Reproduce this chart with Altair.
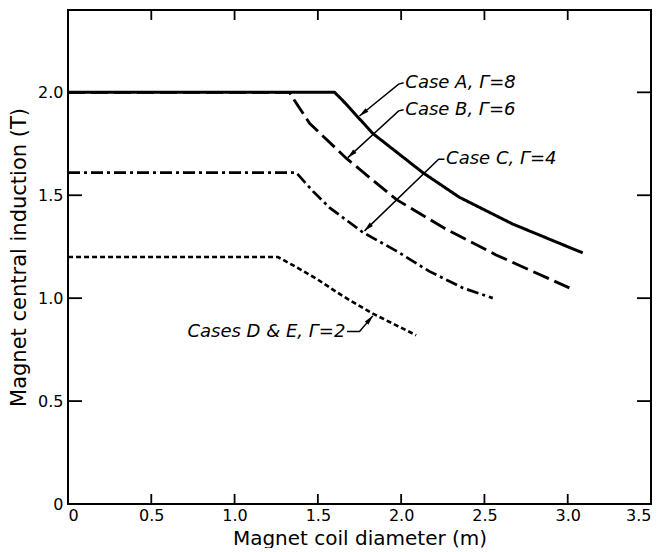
import math
import altair as alt
import pandas as pd

# ---- data ----
case_a_x = [0.0, 1.60, 1.65, 1.83, 2.13, 2.35, 2.67, 3.09]
case_a_y = [2.00, 2.00, 1.96, 1.80, 1.61, 1.49, 1.36, 1.22]
case_b_x = [0.0, 1.33, 1.36, 1.45, 1.67, 1.97, 2.27, 2.57, 3.01]
case_b_y = [2.00, 2.00, 1.96, 1.85, 1.68, 1.48, 1.335, 1.21, 1.05]
case_c_x = [0.0, 1.37, 1.47, 1.57, 1.77, 1.97, 2.17, 2.37, 2.55]
case_c_y = [1.61, 1.61, 1.52, 1.44, 1.32, 1.23, 1.13, 1.05, 1.00]
case_d_x = [0.0, 1.26, 1.35, 1.50, 1.65, 1.83, 2.09]
case_d_y = [1.20, 1.20, 1.16, 1.09, 1.01, 0.925, 0.82]

case_names = ["A", "B", "C", "D"]

x_tick_labels = [0.0, 0.5, 1.0, 1.5, 2.0, 2.5, 3.0, 3.5]
y_tick_labels = [0.0, 0.5, 1.0, 1.5, 2.0]
x_inner_ticks = [0.5, 1.0, 1.5, 2.0, 2.5, 3.0]
y_inner_ticks = [0.5, 1.0, 1.5, 2.0]

label_text = ["Case A,  \u0393=8", "Case B,  \u0393=6", "Case C,  \u0393=4", "Cases D & E,  \u0393=2"]
label_x = [2.025, 2.025, 2.27, 1.665]
label_y = [2.047, 1.915, 1.675, 0.835]
label_align = ["left", "left", "left", "right"]

# leader lines: start, bend, arrow tip
leader_x = [[2.015, 1.985, 1.75], [2.015, 1.985, 1.68], [2.26, 2.225, 1.78], [1.675, 1.75, 1.83]]
leader_y = [[2.047, 2.040, 1.885], [1.915, 1.910, 1.683], [1.675, 1.675, 1.327], [0.838, 0.838, 0.914]]

X_MAX, Y_MAX = 3.5, 2.4
W, H = 583, 494
TL = 10

rows = []
for name, xs_, ys_ in zip(case_names, [case_a_x, case_b_x, case_c_x, case_d_x],
                         [case_a_y, case_b_y, case_c_y, case_d_y]):
    for i, (xv, yv) in enumerate(zip(xs_, ys_)):
        rows.append({"case": name, "x": xv, "y": yv, "ord": i})
lines_df = pd.DataFrame(rows)

lead_rows = []
arrow_rows = []
sx, sy = W / X_MAX, H / Y_MAX
for k, (lx, ly) in enumerate(zip(leader_x, leader_y)):
    for i, (xv, yv) in enumerate(zip(lx, ly)):
        lead_rows.append({"id": k, "x": xv, "y": yv, "ord": i})
    dx = (lx[-1] - lx[-2]) * sx
    dyu = (ly[-1] - ly[-2]) * sy
    ang = math.degrees(math.atan2(dx, dyu)) % 360
    arrow_rows.append({"x": lx[-1], "y": ly[-1], "angle": ang})
lead_df = pd.DataFrame(lead_rows)
arrow_df = pd.DataFrame(arrow_rows)
label_df = pd.DataFrame({"t": label_text, "x": label_x, "y": label_y, "al": label_align})

xs = alt.Scale(domain=[0, X_MAX], nice=False, zero=False)
ys = alt.Scale(domain=[0, Y_MAX], nice=False, zero=False)

FONT = "DejaVu Sans"

x_axis = alt.Axis(
    values=x_tick_labels,
    labelExpr="datum.value == 0 ? '0' : format(datum.value, '.1f')",
    ticks=False, domain=False, grid=False,
    title="Magnet coil diameter (m)", titleFontSize=20, titleFontWeight="normal",
    labelFontSize=16, labelPadding=3, titlePadding=5, labelFont=FONT, titleFont=FONT,
    labelColor="black", titleColor="black")
y_axis = alt.Axis(
    values=y_tick_labels,
    labelExpr="datum.value == 0 ? '0' : format(datum.value, '.1f')",
    ticks=False, domain=False, grid=False,
    title="Magnet central induction (T)", titleFontSize=21, titleFontWeight="normal",
    labelFontSize=16, labelPadding=5, titlePadding=8, labelFont=FONT, titleFont=FONT,
    labelColor="black", titleColor="black")


def X(f):
    return alt.X(f, scale=xs, axis=x_axis)


def Y(f):
    return alt.Y(f, scale=ys, axis=y_axis)


lines = alt.Chart(lines_df).mark_line(color="black").encode(
    x=X("x:Q"), y=Y("y:Q"),
    detail="case:N",
    order="ord:Q",
    strokeDash=alt.StrokeDash("case:N", scale=alt.Scale(
        domain=case_names, range=[[1, 0], [17, 6], [12, 4, 3, 4], [5, 3]]), legend=None),
    strokeWidth=alt.StrokeWidth("case:N", scale=alt.Scale(
        domain=case_names, range=[3.0, 2.6, 2.6, 2.6]), legend=None),
)

xt_df = pd.DataFrame({"x": x_inner_ticks})
yt_df = pd.DataFrame({"y": y_inner_ticks})
tick_style = dict(color="black", strokeWidth=1.8)
bottom_ticks = alt.Chart(xt_df).mark_rule(**tick_style).encode(
    x=X("x:Q"), y=alt.value(H), y2=alt.value(H - TL))
top_ticks = alt.Chart(xt_df).mark_rule(**tick_style).encode(
    x=X("x:Q"), y=alt.value(0), y2=alt.value(TL))
left_ticks = alt.Chart(yt_df).mark_rule(**tick_style).encode(
    y=Y("y:Q"), x=alt.value(0), x2=alt.value(TL + 4))
right_ticks = alt.Chart(yt_df).mark_rule(**tick_style).encode(
    y=Y("y:Q"), x=alt.value(W - TL - 4), x2=alt.value(W))

leaders = alt.Chart(lead_df).mark_line(color="black", strokeWidth=1.5).encode(
    x=X("x:Q"), y=Y("y:Q"), detail="id:N", order="ord:Q")

arrows = alt.Chart(arrow_df).mark_point(
    shape="M0,0L-0.3,1.2L0.3,1.2Z", filled=True, color="black", opacity=1, size=250
).encode(x=X("x:Q"), y=Y("y:Q"), angle=alt.Angle("angle:Q", scale=None))

labels_left = alt.Chart(label_df[label_df.al == "left"]).mark_text(
    align="left", baseline="middle", fontStyle="italic", fontSize=18, font=FONT, color="black"
).encode(x=X("x:Q"), y=Y("y:Q"), text="t:N")
labels_right = alt.Chart(label_df[label_df.al == "right"]).mark_text(
    align="right", baseline="middle", fontStyle="italic", fontSize=18, font=FONT, color="black"
).encode(x=X("x:Q"), y=Y("y:Q"), text="t:N")

chart = alt.layer(
    lines, bottom_ticks, top_ticks, left_ticks, right_ticks, leaders, arrows, labels_left, labels_right
).properties(
    width=W, height=H, padding={"left": 0, "top": 1, "right": 0, "bottom": 0}, background="white"
).configure_view(stroke="black", strokeWidth=2)

chart.save("out.html", embed_options={"renderer": "svg", "actions": False})
